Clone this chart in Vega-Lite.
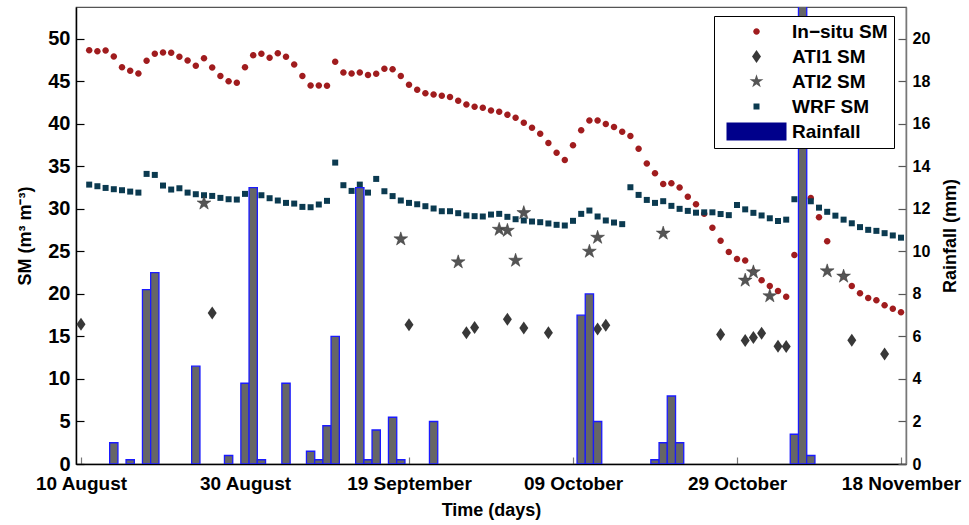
{
  "$schema": "https://vega.github.io/schema/vega-lite/v6.json",
  "width": 830,
  "height": 457,
  "autosize": {"type": "none"},
  "padding": {"left": 76, "top": 7, "right": 63, "bottom": 61},
  "background": "white",
  "config": {
    "font": "Liberation Sans",
    "view": {"stroke": "#555", "strokeWidth": 1.2},
    "axis": {"grid": false, "labelColor": "black", "titleColor": "black", "labelFontWeight": "bold", "titleFontWeight": "bold", "labelFont": "Liberation Sans", "titleFont": "Liberation Sans"},
    "legend": {"title": null, "orient": "none", "legendX": 638, "legendY": 9, "symbolSize": 100,
      "labelFont": "Liberation Sans", "labelFontSize": 19, "labelFontWeight": "bold", "labelColor": "black",
      "padding": 6, "rowPadding": 5, "strokeColor": "black", "fillColor": "white", "symbolOffset": 27, "labelOffset": 26}
  },
  "datasets": {
    "insitu": [
      {"day":1,"sm":48.67},{"day":2,"sm":48.55},{"day":3,"sm":48.63},{"day":4,"sm":47.93},{"day":5,"sm":46.67},{"day":6,"sm":46.24},{"day":7,"sm":45.93},{"day":8,"sm":47.42},{"day":9,"sm":48.24},{"day":10,"sm":48.40},
      {"day":11,"sm":48.36},{"day":12,"sm":47.89},{"day":13,"sm":47.46},{"day":14,"sm":46.83},{"day":15,"sm":47.73},{"day":16,"sm":46.63},{"day":17,"sm":45.62},{"day":18,"sm":45.03},{"day":19,"sm":44.84},{"day":20,"sm":46.67},
      {"day":21,"sm":48.08},{"day":22,"sm":48.24},{"day":23,"sm":47.77},{"day":24,"sm":48.32},{"day":25,"sm":47.89},{"day":26,"sm":46.99},{"day":27,"sm":45.62},{"day":28,"sm":44.52},{"day":29,"sm":44.52},{"day":30,"sm":44.48},
      {"day":31,"sm":47.30},{"day":32,"sm":46.05},{"day":33,"sm":45.93},{"day":34,"sm":46.05},{"day":35,"sm":45.74},{"day":36,"sm":45.89},{"day":37,"sm":46.48},{"day":38,"sm":46.44},{"day":39,"sm":45.62},{"day":40,"sm":44.60},
      {"day":41,"sm":44.01},{"day":42,"sm":43.62},{"day":43,"sm":43.47},{"day":44,"sm":43.31},{"day":45,"sm":43.15},{"day":46,"sm":42.72},{"day":47,"sm":42.29},{"day":48,"sm":42.02},{"day":49,"sm":41.90},{"day":50,"sm":41.59},
      {"day":51,"sm":41.43},{"day":52,"sm":41.08},{"day":53,"sm":40.73},{"day":54,"sm":40.14},{"day":55,"sm":39.55},{"day":56,"sm":38.85},{"day":57,"sm":37.75},{"day":58,"sm":36.62},{"day":59,"sm":35.76},{"day":60,"sm":37.48},
      {"day":61,"sm":39.24},{"day":62,"sm":40.41},{"day":63,"sm":40.41},{"day":64,"sm":39.98},{"day":65,"sm":39.63},{"day":66,"sm":39.08},{"day":67,"sm":38.58},{"day":68,"sm":37.09},{"day":69,"sm":35.33},{"day":70,"sm":34.19},
      {"day":71,"sm":32.94},{"day":72,"sm":33.02},{"day":73,"sm":32.51},{"day":74,"sm":31.44},{"day":75,"sm":30.56},{"day":76,"sm":29.42},{"day":77,"sm":27.80},{"day":78,"sm":26.27},{"day":79,"sm":24.94},{"day":80,"sm":24.10},
      {"day":81,"sm":23.92},{"day":82,"sm":22.60},{"day":83,"sm":21.62},{"day":84,"sm":20.93},{"day":85,"sm":20.36},{"day":86,"sm":19.68},{"day":87,"sm":24.59},{"day":89,"sm":31.30},{"day":90,"sm":29.03},
      {"day":91,"sm":26.20},{"day":93,"sm":22.07},{"day":94,"sm":20.95},{"day":95,"sm":20.07},{"day":96,"sm":19.52},{"day":97,"sm":19.25},{"day":98,"sm":18.66},{"day":99,"sm":18.27},{"day":100,"sm":17.84}
    ],
    "wrf": [
      {"day":1,"sm":32.86},{"day":2,"sm":32.67},{"day":3,"sm":32.47},{"day":4,"sm":32.32},{"day":5,"sm":32.20},{"day":6,"sm":32.04},{"day":7,"sm":31.92},{"day":8,"sm":34.12},{"day":9,"sm":34.00},{"day":10,"sm":32.75},
      {"day":11,"sm":32.28},{"day":12,"sm":32.43},{"day":13,"sm":31.92},{"day":14,"sm":31.73},{"day":15,"sm":31.61},{"day":16,"sm":31.53},{"day":17,"sm":31.30},{"day":18,"sm":31.14},{"day":19,"sm":31.10},{"day":20,"sm":31.77},
      {"day":22,"sm":31.61},{"day":23,"sm":31.26},{"day":24,"sm":30.99},{"day":25,"sm":30.71},{"day":26,"sm":30.63},{"day":27,"sm":30.24},{"day":28,"sm":30.20},{"day":29,"sm":30.52},{"day":30,"sm":30.95},
      {"day":31,"sm":35.45},{"day":32,"sm":32.79},{"day":33,"sm":32.12},{"day":34,"sm":32.86},{"day":35,"sm":31.92},{"day":36,"sm":33.53},{"day":37,"sm":32.08},{"day":38,"sm":31.51},{"day":39,"sm":30.99},{"day":40,"sm":30.71},
      {"day":41,"sm":30.55},{"day":42,"sm":30.32},{"day":43,"sm":30.05},{"day":44,"sm":29.73},{"day":45,"sm":29.73},{"day":46,"sm":29.50},{"day":47,"sm":29.23},{"day":48,"sm":29.15},{"day":49,"sm":29.11},{"day":50,"sm":29.34},
      {"day":51,"sm":29.42},{"day":52,"sm":29.07},{"day":53,"sm":28.79},{"day":54,"sm":28.64},{"day":55,"sm":28.52},{"day":56,"sm":28.44},{"day":57,"sm":28.29},{"day":58,"sm":28.13},{"day":59,"sm":28.05},{"day":60,"sm":28.60},
      {"day":61,"sm":29.42},{"day":62,"sm":29.81},{"day":63,"sm":29.11},{"day":64,"sm":28.64},{"day":65,"sm":28.40},{"day":66,"sm":28.21},{"day":67,"sm":32.55},{"day":68,"sm":31.65},{"day":69,"sm":31.06},{"day":70,"sm":30.71},
      {"day":71,"sm":30.91},{"day":72,"sm":30.36},{"day":73,"sm":30.01},{"day":74,"sm":29.77},{"day":75,"sm":29.56},{"day":76,"sm":29.60},{"day":77,"sm":29.60},{"day":78,"sm":29.40},{"day":79,"sm":29.27},{"day":80,"sm":30.46},
      {"day":81,"sm":29.95},{"day":82,"sm":29.54},{"day":83,"sm":29.23},{"day":84,"sm":28.90},{"day":85,"sm":28.58},{"day":86,"sm":28.74},{"day":87,"sm":31.14},{"day":89,"sm":30.90},{"day":90,"sm":30.15},
      {"day":91,"sm":29.66},{"day":92,"sm":29.21},{"day":93,"sm":28.74},{"day":94,"sm":28.31},{"day":95,"sm":27.86},{"day":96,"sm":27.54},{"day":97,"sm":27.42},{"day":98,"sm":27.15},{"day":99,"sm":26.88},{"day":100,"sm":26.62}
    ],
    "ati1": [
      {"day":0,"sm":16.43},{"day":16,"sm":17.76},{"day":40,"sm":16.39},{"day":47,"sm":15.45},{"day":48,"sm":16.04},{"day":52,"sm":17.02},{"day":54,"sm":16.00},{"day":57,"sm":15.45},{"day":63,"sm":15.88},
      {"day":64,"sm":16.31},{"day":78,"sm":15.22},{"day":81,"sm":14.52},{"day":82,"sm":14.87},{"day":83,"sm":15.38},{"day":85,"sm":13.85},{"day":86,"sm":13.81},{"day":94,"sm":14.55},{"day":98,"sm":12.95}
    ],
    "ati2": [
      {"day":15,"sm":30.67},{"day":39,"sm":26.45},{"day":46,"sm":23.75},{"day":51,"sm":27.58},{"day":52,"sm":27.46},{"day":53,"sm":23.94},{"day":54,"sm":29.54},{"day":62,"sm":25.00},
      {"day":63,"sm":26.64},{"day":71,"sm":27.13},{"day":81,"sm":21.60},{"day":82,"sm":22.57},{"day":84,"sm":19.76},{"day":91,"sm":22.69},{"day":93,"sm":22.07}
    ],
    "rain": [
      {"day":4,"rain":1.0},{"day":6,"rain":0.2},{"day":8,"rain":8.2},{"day":9,"rain":9.0},{"day":14,"rain":4.6},{"day":18,"rain":0.4},{"day":20,"rain":3.8},{"day":21,"rain":13.0},{"day":22,"rain":0.2},
      {"day":25,"rain":3.8},{"day":28,"rain":0.6},{"day":29,"rain":0.2},{"day":30,"rain":1.8},{"day":31,"rain":6.0},{"day":34,"rain":13.0},{"day":35,"rain":0.2},{"day":36,"rain":1.6},{"day":38,"rain":2.2},
      {"day":39,"rain":0.2},{"day":43,"rain":2.0},{"day":61,"rain":7.0},{"day":62,"rain":8.0},{"day":63,"rain":2.0},{"day":70,"rain":0.2},{"day":71,"rain":1.0},{"day":72,"rain":3.2},{"day":73,"rain":1.0},
      {"day":87,"rain":1.4},{"day":88,"rain":22.0},{"day":89,"rain":0.4}
    ]
  },
  "layer": [
    {
      "encoding": {
        "x": {"field": "day", "type": "quantitative", "scale": {"domain": [0, 100], "nice": false, "zero": false},
          "axis": {"title": "Time (days)", "values": [0, 20, 40, 60, 80, 100],
            "labelExpr": "['10 August','30 August','19 September','09 October','29 October','18 November'][round(datum.value/20)]",
            "labelFlush": false, "labelOverlap": false, "tickSize": -7, "tickColor": "#777", "tickWidth": 1.2,
            "domainColor": "black", "domainWidth": 1.5, "labelFontSize": 19, "labelPadding": 17,
            "titleFontSize": 18, "titlePadding": 8}},
        "y": {"field": "sm", "type": "quantitative", "scale": {"domain": [0, 53.75], "nice": false, "zero": true},
          "axis": {"title": "SM (m³ m⁻³)", "orient": "left", "values": [0, 5, 10, 15, 20, 25, 30, 35, 40, 45, 50],
            "tickSize": -8, "tickColor": "black", "tickWidth": 1.2, "domainColor": "black", "domainWidth": 1.5,
            "labelFontSize": 20, "labelPadding": 14, "titleFontSize": 18, "titlePadding": 13}},
        "color": {"field": "series", "type": "nominal",
          "scale": {"domain": ["In\u2212situ SM", "ATI1 SM", "ATI2 SM", "WRF SM", "Rainfall"],
            "range": ["#a01c1e", "#383838", "#555555", "#0b3a50", "#00008b"]},
          "legend": {"encode": {"legend": {"update": {"strokeWidth": {"value": 2}}},
              "symbols": {"update": {"stroke": {"signal": "datum.value === 'Rainfall' ? 'black' : 'transparent'"}, "strokeWidth": {"value": 1.5}}}}}},
        "shape": {"field": "series", "type": "nominal",
          "scale": {"domain": ["In\u2212situ SM", "ATI1 SM", "ATI2 SM", "WRF SM", "Rainfall"],
            "range": ["M0.65,0A0.65,0.65,0,1,1,-0.65,0A0.65,0.65,0,1,1,0.65,0Z",
              "M0,-1.3L0.9,0L0,1.3L-0.9,0Z",
              "M0,-1.45L0.326,-0.448L1.379,-0.448L0.527,0.171L0.852,1.173L0,0.554L-0.852,1.173L-0.527,0.171L-1.379,-0.448L-0.326,-0.448Z",
              "M-0.6,-0.6H0.6V0.6H-0.6Z",
              "M-6,-1.8H6V1.8H-6Z"]},
          "legend": {"encode": {"legend": {"update": {"strokeWidth": {"value": 2}}},
              "symbols": {"update": {"stroke": {"signal": "datum.value === 'Rainfall' ? 'black' : 'transparent'"}, "strokeWidth": {"value": 1.5}}}}}}
      },
      "layer": [
        {"data": {"name": "insitu"}, "transform": [{"calculate": "'In\u2212situ SM'", "as": "series"}],
          "mark": {"type": "point", "filled": true, "size": 100, "opacity": 1, "strokeWidth": 0}},
        {"data": {"name": "wrf"}, "transform": [{"calculate": "'WRF SM'", "as": "series"}],
          "mark": {"type": "point", "filled": true, "size": 100, "opacity": 1, "strokeWidth": 0}},
        {"data": {"name": "ati1"}, "transform": [{"calculate": "'ATI1 SM'", "as": "series"}],
          "mark": {"type": "point", "filled": true, "size": 100, "opacity": 1, "strokeWidth": 0}},
        {"data": {"name": "ati2"}, "transform": [{"calculate": "'ATI2 SM'", "as": "series"}],
          "mark": {"type": "point", "filled": true, "size": 100, "opacity": 1, "stroke": "#333", "strokeWidth": 0.5}}
      ]
    },
    {
      "data": {"name": "rain"},
      "mark": {"type": "bar", "width": 8.3, "fill": "#666666", "stroke": "#1a1aff", "strokeWidth": 1.3, "clip": true},
      "encoding": {
        "x": {"field": "day", "type": "quantitative"},
        "y": {"field": "rain", "type": "quantitative", "scale": {"domain": [0, 21.5], "nice": false, "zero": true},
          "axis": {"title": "Rainfall (mm)", "orient": "right", "values": [0, 2, 4, 6, 8, 10, 12, 14, 16, 18, 20],
            "tickSize": -8, "tickColor": "#555", "tickWidth": 1.2, "domainColor": "#777", "domainWidth": 1.5,
            "labelFontSize": 16, "labelPadding": 14, "titleFontSize": 18, "titlePadding": 12,
            "titleAngle": 270, "titleBaseline": "top"}}
      }
    }
  ],
  "resolve": {"scale": {"y": "independent"}}
}
